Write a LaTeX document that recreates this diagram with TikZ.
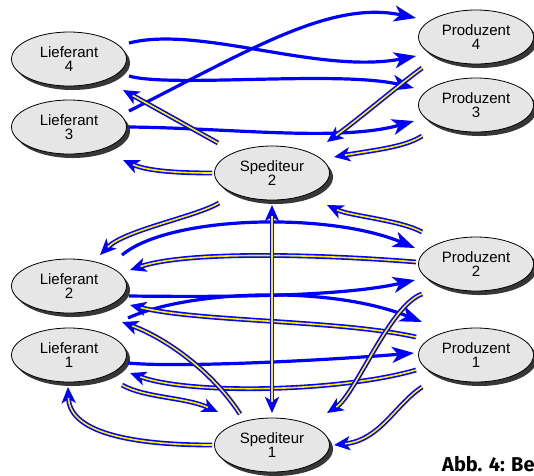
\documentclass[tikz,border=0pt]{standalone}
\usepackage{fontspec}
\setmainfont{Liberation Sans}
\newfontfamily\capfont{Fira Sans}
\usetikzlibrary{shapes.geometric,shadows,arrows.meta}
\definecolor{ablue}{RGB}{0,0,255}
\definecolor{ayel}{RGB}{255,238,0}
\definecolor{efill}{RGB}{230,230,230}
\definecolor{eshadow}{RGB}{55,55,55}
\begin{document}
\begin{tikzpicture}[x=1pt,y=-1pt,
  party/.style={ellipse, draw=black, line width=0.8pt, fill=efill,
    minimum width=115pt, minimum height=54pt, inner sep=0pt, align=center,
    font=\fontsize{15}{14}\selectfont,
    drop shadow={shadow xshift=3.5pt, shadow yshift=-4pt, fill=eshadow, opacity=1}},
  flow/.style={draw=ablue, line width=3.2pt, -{Stealth[length=22pt,width=16pt,inset=6pt]}},
  goods/.style={draw=ablue, line width=4.8pt, -{Stealth[length=16pt,width=14pt,inset=4pt]},
    postaction={draw=ayel, line width=1.6pt, -, shorten >=11pt}},
  goodsboth/.style={draw=ablue, line width=4.8pt,
    {Stealth[length=16pt,width=14pt,inset=4pt]}-{Stealth[length=16pt,width=14pt,inset=4pt]},
    postaction={draw=ayel, line width=1.6pt, -, shorten >=11pt, shorten <=11pt}},
  caption/.style={anchor=base west, inner sep=0pt, font=\capfont\bfseries\fontsize{20}{22}\selectfont}
]
\useasboundingbox (0,0) rectangle (534,475);

% nodes
\node[party] (L4) at (69,59) {Lieferant\\4};
\node[party] (L3) at (69,127) {Lieferant\\3};
\node[party] (L2) at (69,286) {Lieferant\\2};
\node[party] (L1) at (69,355) {Lieferant\\1};
\node[party] (S2) at (272,173) {Spediteur\\2};
\node[party] (S1) at (272,445) {Spediteur\\1};
\node[party] (P4) at (476,37) {Produzent\\4};
\node[party] (P3) at (476,105) {Produzent\\3};
\node[party] (P2) at (476,264) {Produzent\\2};
\node[party] (P1) at (476,355) {Produzent\\1};

% information flows (blue)
\draw[flow] ([shift={(60,-16)}]L4.center) .. controls (200,25) and (320,75) .. ([shift={(-60,19)}]P4.center);
\draw[flow] ([shift={(60,-16)}]L3.center) .. controls (250,50) and (330,0) .. ([shift={(-60,-19)}]P4.center);
\draw[flow] ([shift={(60,17)}]L4.center) .. controls (170,88) and (340,70) .. ([shift={(-62,-17)}]P3.center);
\draw[flow] ([shift={(60,0)}]L3.center) .. controls (230,128) and (340,142) .. ([shift={(-62,16)}]P3.center);
\draw[flow] ([shift={(53,-31)}]L2.center) .. controls (170,215) and (330,212) .. ([shift={(-61,-16)}]P2.center);
\draw[flow] ([shift={(60,10)}]L2.center) .. controls (220,297) and (340,297) .. ([shift={(-61,16)}]P2.center);
\draw[flow] ([shift={(59,32)}]L2.center) .. controls (190,290) and (330,285) .. ([shift={(-54,-33)}]P1.center);
\draw[flow] ([shift={(59,8)}]L1.center) .. controls (180,368) and (330,360) .. ([shift={(-62,-2)}]P1.center);

% goods flows (double)
\draw[goods] ([shift={(-54,31)}]P4.center) .. controls (395,88) and (360,118) .. ([shift={(55,-31)}]S2.center);
\draw[goods] ([shift={(-54,31)}]P3.center) .. controls (405,147) and (375,150) .. ([shift={(62,-16)}]S2.center);
\draw[goods] ([shift={(-54,-30)}]S2.center) -- ([shift={(54,31)}]L4.center);
\draw[goods] ([shift={(-60,0)}]S2.center) .. controls (170,173) and (145,170) .. ([shift={(54,33)}]L3.center);
\draw[goods] ([shift={(-53,30)}]S2.center) .. controls (195,217) and (125,230) .. ([shift={(31,-31)}]L2.center);
\draw[goods] ([shift={(-54,-32)}]P2.center) .. controls (400,220) and (350,216) .. ([shift={(55,32)}]S2.center);
\draw[goods] ([shift={(-60,-2)}]P2.center) .. controls (330,255) and (190,250) .. ([shift={(61,-16)}]L2.center);
\draw[goods] ([shift={(-60,-18)}]P1.center) .. controls (340,320) and (200,322) .. ([shift={(61,19)}]L2.center);
\draw[goods] ([shift={(-60,15)}]P1.center) .. controls (340,392) and (190,395) .. ([shift={(61,18)}]L1.center);
\draw[goods] ([shift={(53,30)}]L1.center) .. controls (145,398) and (185,397) .. ([shift={(-54,-33)}]S1.center);
\draw[goods] ([shift={(-60,0)}]S1.center) .. controls (140,445) and (70,435) .. ([shift={(-1,32)}]L1.center);
\draw[goods] ([shift={(-54,32)}]P1.center) .. controls (395,405) and (380,440) .. ([shift={(62,0)}]S1.center);
\draw[goods] ([shift={(-32,-31)}]S1.center) .. controls (215,375) and (170,340) .. ([shift={(53,36)}]L2.center);
\draw[goods] ([shift={(-54,30)}]P2.center) .. controls (390,305) and (355,395) .. ([shift={(55,-32)}]S1.center);
\draw[goodsboth] ([shift={(0,32)}]S2.center) -- ([shift={(0,-32)}]S1.center);

% caption (cut off at the right edge in the reference)
\node[caption] (cap) at (442,471) {Abb. 4: Be};
\end{tikzpicture}
\end{document}
